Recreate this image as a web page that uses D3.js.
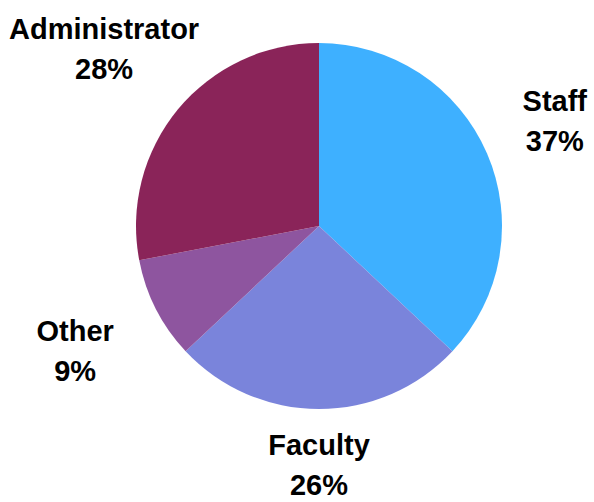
<!DOCTYPE html>
<html>
<head>
<meta charset="utf-8">
<script src="https://cdn.jsdelivr.net/npm/d3@7"></script>
<style>
  body { margin: 0; background: #fff; }
  svg { display: block; }
</style>
</head>
<body>
<svg id="chart" width="594" height="502"></svg>
<script>
// slice data, clockwise from 12 o'clock
let categories = ["Staff", "Faculty", "Other", "Administrator"]
let values = [37, 26, 9, 28]
let colors = ["#3eb0ff", "#7a84db", "#8e559f", "#8a2459"]

let width = 594
let height = 502
let cx = 319
let cy = 226
let radius = 183
let fontSize = 29
let lineGap = 40
let pad = 2
let margin = 5

let svg = d3.select("#chart")

let pie = d3.pie().sort(null).value(d => d.value)
let arc = d3.arc().innerRadius(0).outerRadius(radius)

let rows = categories.map((c, i) => ({ name: c, value: values[i], color: colors[i] }))
let arcs = pie(rows)

let body = svg.append("g")
  .attr("transform", `translate(${cx},${cy})`)

body.selectAll("path")
  .data(arcs)
  .enter()
  .append("path")
  .attr("d", arc)
  .attr("fill", d => d.data.color)

// labels: box pushed out along the mid-angle ray until its edge touches the anchor,
// then kept inside the page
let labels = svg.append("g")
  .style("font-family", "'Liberation Sans', Arial, sans-serif")
  .style("font-weight", "bold")
  .style("font-size", fontSize + "px")
  .attr("fill", "#000")

let r0 = 228
arcs.forEach(d => {
  let mid = (d.startAngle + d.endAngle) / 2
  let dx = Math.sin(mid)
  let dy = -Math.cos(mid)

  let g = labels.append("g")
  let t1 = g.append("text").attr("text-anchor", "middle").text(d.data.name)
  let t2 = g.append("text").attr("text-anchor", "middle").text(d.data.value + "%")

  let w = Math.max(t1.node().getComputedTextLength(), t2.node().getComputedTextLength()) + pad * 2
  let h = lineGap + fontSize * 0.72 + pad * 2

  let tx = Math.abs(dx) > 1e-6 ? (w / 2) / Math.abs(dx) : Infinity
  let ty = Math.abs(dy) > 1e-6 ? (h / 2) / Math.abs(dy) : Infinity
  let r = r0 + Math.min(tx, ty)

  let x = cx + dx * r
  let y = cy + dy * r
  x = Math.max(margin + w / 2, Math.min(width - margin - w / 2, x))
  y = Math.max(margin + h / 2, Math.min(height - margin - h / 2, y))

  let top = y - h / 2 + pad + fontSize * 0.72
  t1.attr("x", x).attr("y", top)
  t2.attr("x", x).attr("y", top + lineGap)
})
</script>
</body>
</html>
